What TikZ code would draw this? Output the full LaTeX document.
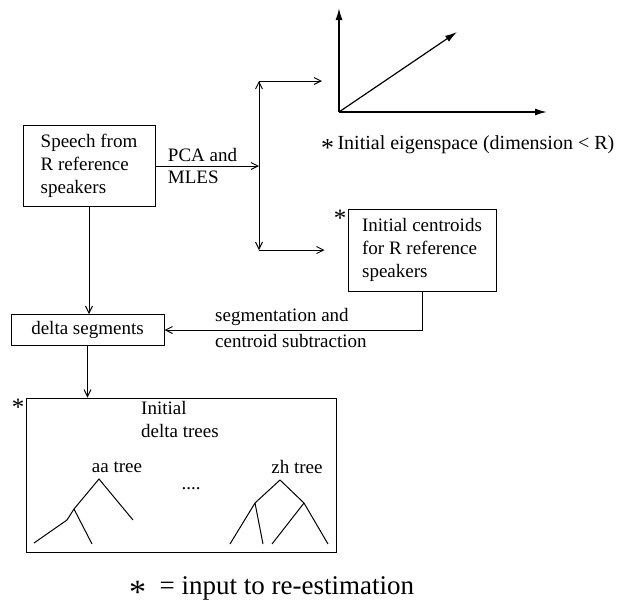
\documentclass[tikz,border=0pt]{standalone}
\usepackage{fontspec}
\setmainfont{Liberation Serif}
\usetikzlibrary{arrows.meta, positioning}

\begin{document}
\begin{tikzpicture}[
    x=1pt, y=-1pt,
    every node/.style = {font=\fontsize{19}{23}\selectfont},
    box/.style   = {draw, line width=1pt, align=left, inner sep=0pt},
    lbl/.style   = {inner sep=4pt, align=left},
    star/.style  = {inner sep=1pt, anchor=north east,
                    font=\fontsize{25}{25}\selectfont},
    arr/.style   = {-{Straight Barb[length=7pt, width=7pt]}, line width=0.9pt},
    axis/.style  = {-{Latex[length=12pt, width=7pt]}, line width=1.6pt},
    twig/.style  = {line width=1pt}
  ]
  \useasboundingbox (0,0) rectangle (622,614);

  %% Speech input and PCA split
  \node[box, minimum width=132pt, minimum height=81pt] (speech) at (89,166)
       {Speech from\\R reference\\speakers};
  \coordinate (split) at (259,166);
  \coordinate (top)   at (259,81);
  \coordinate (bot)   at (259,250);
  \coordinate (eigin) at (322,81);

  \draw[arr] (speech.east) -- (split)
        node[lbl, pos=0, anchor=south west, xshift=8pt] (pca) {PCA and}
        node[lbl, pos=0, anchor=north west, xshift=8pt] (mles) {MLES};
  \draw[arr] (split) -- (top);
  \draw[arr] (split) -- (bot);
  \draw[arr] (top) -- (eigin);

  %% Eigenspace
  \coordinate (orig) at (339,112);
  \coordinate (ytip) at (339,8);
  \coordinate (xtip) at (547,112);
  \coordinate (dtip) at (457,32);
  \draw[axis] (orig) -- (ytip);
  \draw[axis] (orig) -- (xtip);
  \draw[axis, line width=1.2pt] (orig) -- (dtip);
  \node[inner sep=0pt, anchor=west, font=\fontsize{20}{24}\selectfont]
       (eiglab) at (321,146)
       {{\fontsize{26}{26}\selectfont\raisebox{-7pt}{*}}\,Initial eigenspace (dimension < R)};

  %% Centroids
  \node[box, minimum width=148pt, minimum height=82pt,
        label={[star, name=cstar]north west:*}] (cent) at (422,250)
       {Initial centroids\\for R reference\\speakers};
  \draw[arr, shorten >=23pt] (bot) -- (cent.west);

  %% Delta segments
  \node[box, minimum width=153pt, minimum height=31pt] (delta) at (87.5,330)
       {delta segments};
  \draw[arr] (speech.south) -- (speech.south |- delta.north);
  \draw[arr] (cent.south) |- (delta.east);
  \node[lbl, anchor=south west] (seg) at (211,330) {segmentation and};
  \node[lbl, anchor=north west] (sub) at (211,330) {centroid subtraction};

  %% Delta trees
  \node[box, minimum width=310pt, minimum height=154pt,
        label={[star, name=tstar]north west:*}] (tree) at (181,475) {};
  \draw[arr] (delta.south) -- (delta.south |- tree.north);
  \node[inner sep=0pt, anchor=north west, align=left] (ttl) at (141,401)
       {Initial\\delta trees};
  \node (aa) at (117,467) {aa tree};
  \node (zh) at (297,467) {zh tree};
  \node (dots) at (191,489) {....};

  \draw[twig] (34,543) -- (67,520) -- (74,509) -- (99,479) -- (133,520);
  \draw[twig] (74,509) -- (92,544);
  \draw[twig] (230,544) -- (255,503) -- (280,480) -- (304,503) -- (328,544);
  \draw[twig] (255,503) -- (263,544);
  \draw[twig] (304,503) -- (272,544);

  %% Legend
  \node[inner sep=0pt, anchor=west, font=\fontsize{27}{32}\selectfont]
       (legend) at (129,590)
       {{\fontsize{34}{34}\selectfont\raisebox{-9pt}{*}}\ \ = input to re-estimation};

\end{tikzpicture}
\end{document}
